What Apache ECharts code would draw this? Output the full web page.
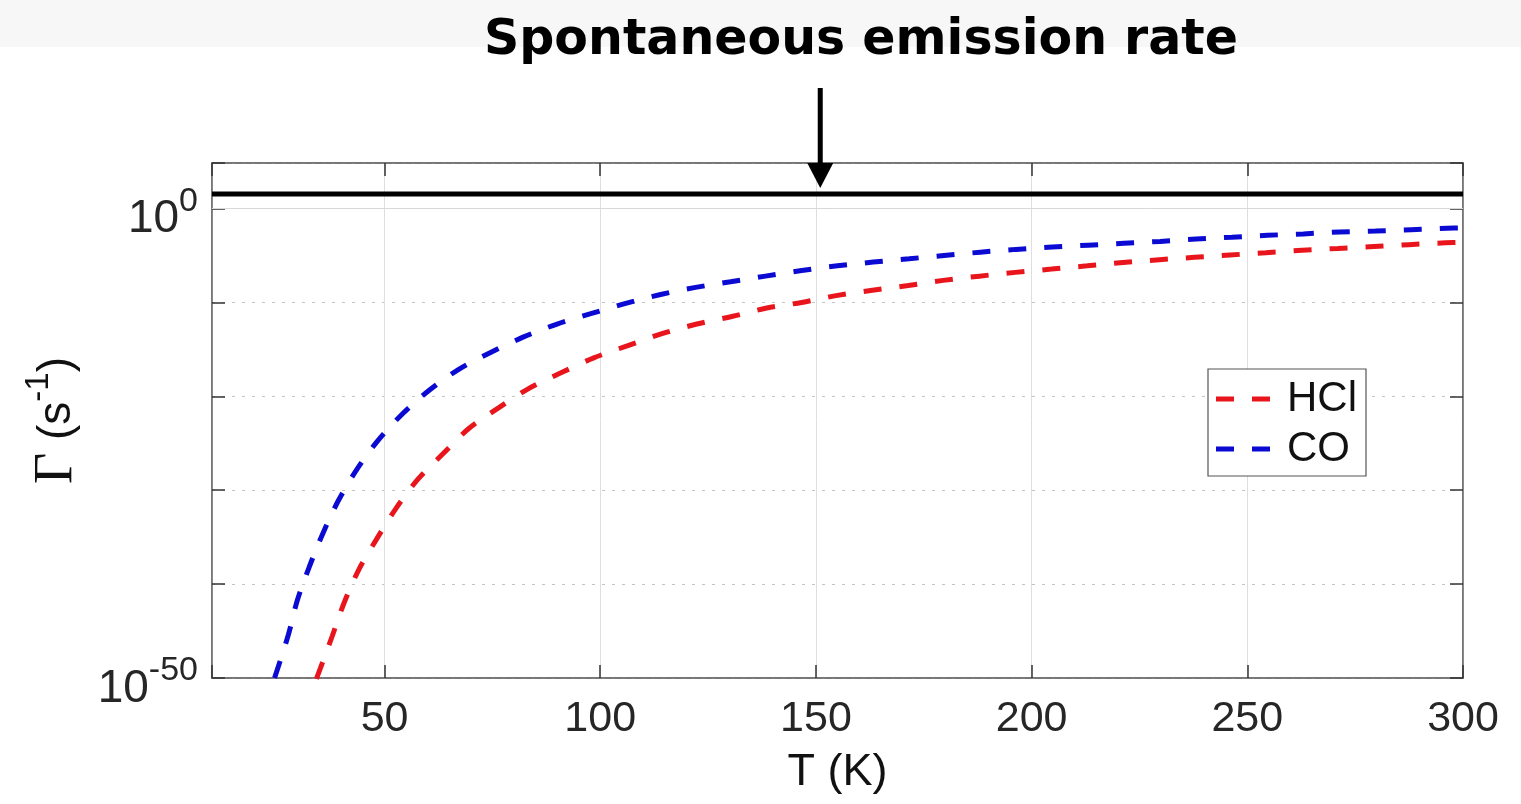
<!DOCTYPE html>
<html><head><meta charset="utf-8">
<script src="https://cdn.jsdelivr.net/npm/echarts@6/dist/echarts.min.js"></script>
<style>html,body{margin:0;padding:0;background:#fff}#c{width:1521px;height:804px}</style>
</head><body><div id="c"></div>
<script>
// ---------------- data ----------------
const titleText = 'Spontaneous emission rate';
const seriesNames = ['HCl', 'CO'];
const xAxisName = 'T (K)';
const xTickValues = [50, 100, 150, 200, 250, 300];
const yLabelExponents = [0, -50];            // labelled decades (10^0, 10^-50)
const xRange = [10, 300];
const yExpRange = [-50, 4.85];               // log10 of Γ
// T (K) and log10 Γ (s^-1)
const tHCl = [34.2,37.9,40.7,44.1,48.3,52.7,57.8,63.6,69.6,76.5,83.3,90.9,98.5,106.4,114.5,122.4,130.5,138.6,146.7,155.0,163.1,171.4,179.5,187.9,196.2,204.6,212.9,221.2,229.6,237.7,246.0,254.3,262.7,271.0,279.3,287.4,296.0,300.0];
const logGammaHCl = [-50.1,-45.5,-41.9,-38.4,-35.1,-31.9,-28.8,-26.1,-23.4,-21.2,-19.2,-17.5,-15.9,-14.6,-13.3,-12.3,-11.5,-10.6,-10.0,-9.25,-8.7,-8.2,-7.65,-7.2,-6.8,-6.45,-6.1,-5.75,-5.45,-5.2,-4.95,-4.7,-4.45,-4.25,-4.05,-3.85,-3.65,-3.6];
const tCO = [24.5,27.7,29.8,32.6,35.8,39.3,43.7,48.5,54.3,60.5,67.3,74.7,82.1,90.0,97.8,105.9,114.0,122.1,130.2,138.3,146.7,155.0,163.3,171.6,179.7,188.1,196.4,204.8,213.1,221.4,229.8,238.1,246.4,254.7,263.0,271.4,279.7,288.0,296.3,300.0];
const logGammaCO = [-50.0,-45.4,-41.7,-38.1,-34.5,-31.1,-27.7,-24.7,-21.8,-19.3,-17.1,-15.3,-13.7,-12.3,-11.2,-10.1,-9.15,-8.4,-7.8,-7.2,-6.6,-6.1,-5.7,-5.35,-5.0,-4.65,-4.35,-4.1,-3.9,-3.7,-3.5,-3.25,-3.05,-2.85,-2.7,-2.5,-2.4,-2.25,-2.1,-2.05];
const spontaneousLogRate = 1.54;             // log10 of the spontaneous emission rate
const arrowT = 151;                           // where the annotation arrow points

// ---------------- chart ----------------
const pair = (xs, ys) => xs.map((x, i) => [x, ys[i]]);
const chart = echarts.init(document.getElementById('c'), null, {renderer: 'canvas'});
const FONT = 'Liberation Sans, Arial, Helvetica, sans-serif';
const axisColor = '#6e6e6e';
const supRich = {
  b: {fontSize: 46, lineHeight: 70, fontFamily: FONT, color: '#262626'},
  s: {fontSize: 34, lineHeight: 34, fontFamily: FONT, color: '#262626', verticalAlign: 'top'}
};
const dashIcon = 'path://M0,0h18v5h-18z M36,0h18v5h-18z';

const option = {
  animation: false,
  backgroundColor: '#fff',
  grid: {left: 212, right: 58, top: 163, bottom: 126, show: true, borderColor: axisColor, borderWidth: 1.5, backgroundColor: '#fff'},
  xAxis: [{
    type: 'value', min: xRange[0], max: xRange[1], splitNumber: 6,
    name: xAxisName, nameLocation: 'middle', nameGap: 72,
    nameTextStyle: {fontSize: 45, fontFamily: FONT, color: '#111'},
    axisLine: {show: true, onZero: false, lineStyle: {color: axisColor, width: 1.5}},
    axisTick: {show: true, inside: true, length: 13, lineStyle: {color: '#333', width: 1.5}},
    axisLabel: {margin: 20, fontSize: 43, fontFamily: FONT, color: '#262626',
      formatter: v => xTickValues.includes(v) ? String(v) : ''},
    splitLine: {show: true, lineStyle: {color: '#dedede', width: 1}}
  }, {
    type: 'value', position: 'top', min: xRange[0], max: xRange[1], splitNumber: 6,
    axisLine: {show: true, onZero: false, lineStyle: {color: axisColor, width: 1.5}},
    axisTick: {show: true, inside: true, length: 13, lineStyle: {color: '#333', width: 1.5}},
    axisLabel: {show: false}, splitLine: {show: false}
  }],
  yAxis: [{
    type: 'value', min: yExpRange[0], max: yExpRange[1], interval: 10,
    name: '{g|Γ} {b|(s}{s|-1}{b|)}', nameLocation: 'middle', nameRotate: 90, nameGap: 120,
    nameTextStyle: {fontSize: 46, fontFamily: FONT, color: '#111', rich: {
      g: {fontSize: 54, fontFamily: 'Liberation Serif, Times New Roman, serif', color: '#111', lineHeight: 70},
      b: {fontSize: 46, fontFamily: FONT, color: '#111', lineHeight: 70},
      s: {fontSize: 33, fontFamily: FONT, color: '#111', lineHeight: 33, verticalAlign: 'top'}
    }},
    axisLine: {show: true, onZero: false, lineStyle: {color: axisColor, width: 1.5}},
    axisTick: {show: true, inside: true, length: 13, lineStyle: {color: '#333', width: 1.5}},
    axisLabel: {margin: 14, padding: [22, 0, 0, 0], rich: supRich,
      formatter: v => yLabelExponents.includes(v) ? '{b|10}{s|' + v + '}' : ''},
    splitLine: {show: true, lineStyle: {color: '#c4c4c4', width: 1, type: [3, 7]}}
  }, {
    type: 'value', position: 'right', min: yExpRange[0], max: yExpRange[1], interval: 10,
    axisLine: {show: true, onZero: false, lineStyle: {color: axisColor, width: 1.5}},
    axisTick: {show: true, inside: true, length: 13, lineStyle: {color: '#333', width: 1.5}},
    axisLabel: {show: false}, splitLine: {show: false}
  }],
  legend: {
    data: seriesNames.map(n => ({name: n, icon: dashIcon})),
    orient: 'vertical', left: 1208, top: 369,
    padding: [9, 9, 6, 8], itemGap: 8, itemWidth: 54, itemHeight: 5,
    backgroundColor: '#fff', borderColor: '#555', borderWidth: 1.2, borderRadius: 0,
    itemStyle: {borderWidth: 0},
    textStyle: {fontSize: 42, lineHeight: 42, fontFamily: FONT, color: '#111', padding: [0, 0, 0, 12]}
  },
  series: [{
    name: seriesNames[0], type: 'line', data: pair(tHCl, logGammaHCl),
    symbol: 'none', showSymbol: false, smooth: 0.3, clip: true,
    lineStyle: {color: '#e8161c', width: 5, type: [18, 18]}, itemStyle: {color: '#e8161c'}, z: 3
  }, {
    name: seriesNames[1], type: 'line', data: pair(tCO, logGammaCO),
    symbol: 'none', showSymbol: false, smooth: 0.3, clip: true,
    lineStyle: {color: '#0a0ad2', width: 5, type: [18, 18]}, itemStyle: {color: '#0a0ad2'}, z: 3
  }, {
    name: 'spontaneous', type: 'line', data: [[xRange[0], spontaneousLogRate], [xRange[1], spontaneousLogRate]],
    symbol: 'none', showSymbol: false, silent: true, clip: false,
    lineStyle: {color: '#000', width: 5, type: 'solid'}, z: 4,
    markLine: {silent: true, symbol: 'none', label: {show: false},
      lineStyle: {color: '#d8d8d8', width: 1, type: 'solid'}, data: [{yAxis: 0}]}
  }]
};
chart.setOption(option);

const p = chart.convertToPixel({xAxisIndex: 0, yAxisIndex: 0}, [arrowT, spontaneousLogRate]);
chart.setOption({
  graphic: [
    {type: 'rect', shape: {x: 0, y: 0, width: 1521, height: 47}, style: {fill: '#f7f7f7'}, z: 0, silent: true},
    {type: 'text', x: 861, y: 41, z: 10, style: {text: titleText, fill: '#000',
      font: 'bold 49px "DejaVu Sans", sans-serif', align: 'center', verticalAlign: 'middle'}},
    {type: 'line', shape: {x1: p[0], y1: 88, x2: p[0], y2: p[1] - 29}, style: {stroke: '#000', lineWidth: 5}, z: 10},
    {type: 'polygon', shape: {points: [[p[0] - 13, p[1] - 31], [p[0] + 13, p[1] - 31], [p[0], p[1] - 6]]}, style: {fill: '#000'}, z: 10}
  ]
});
</script></body></html>
